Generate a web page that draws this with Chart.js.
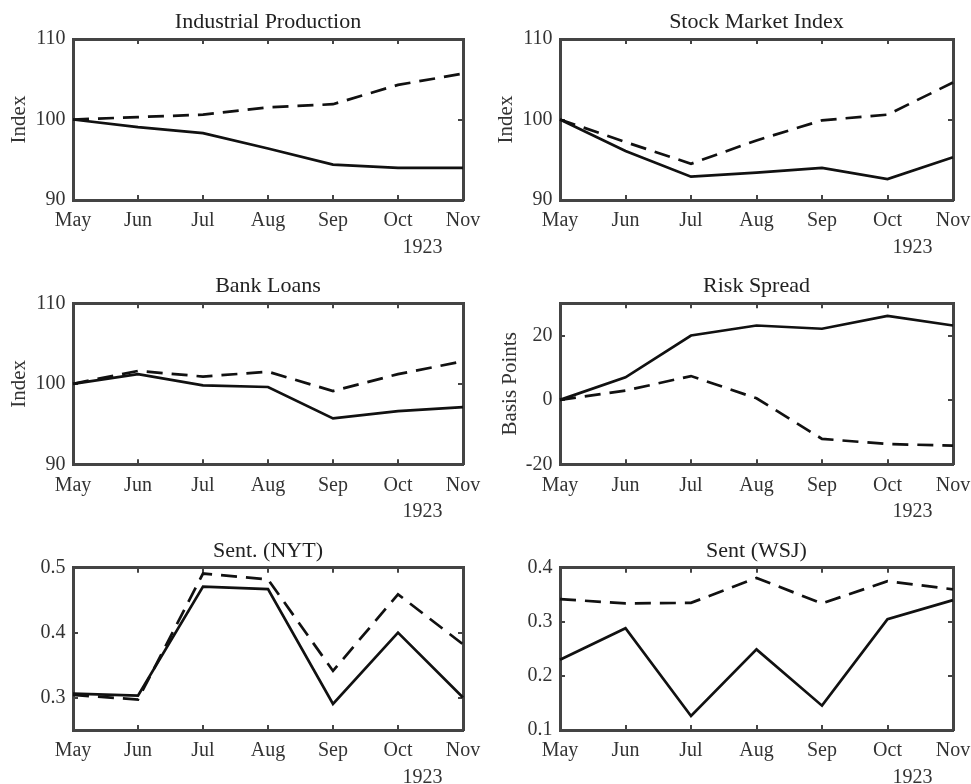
<!DOCTYPE html>
<html>
<head>
<meta charset="utf-8">
<script src="https://cdn.jsdelivr.net/npm/chart.js@4/dist/chart.umd.min.js"></script>
<style>
  html, body { margin: 0; padding: 0; background: #fff; overflow: hidden; }
  body { width: 971px; height: 784px; position: relative; }
  canvas { position: absolute; }
</style>
</head>
<body>
<script>
(function() {

    let months = ['May', 'Jun', 'Jul', 'Aug', 'Sep', 'Oct', 'Nov'];
    let yearLabel = '1923';

    // Industrial Production
    let ipSolid = [100, 99.05, 98.3, 96.4, 94.4, 94.0, 94.0];
    let ipDashed = [100, 100.3, 100.6, 101.5, 101.9, 104.3, 105.7];

    // Stock Market Index
    let stockSolid = [100, 96.1, 92.9, 93.4, 94.0, 92.6, 95.3];
    let stockDashed = [100, 97.2, 94.5, 97.4, 99.9, 100.6, 104.6];

    // Bank Loans
    let loansSolid = [100, 101.2, 99.8, 99.6, 95.7, 96.6, 97.1];
    let loansDashed = [100, 101.6, 100.9, 101.5, 99.1, 101.2, 102.8];

    // Risk Spread
    let spreadSolid = [0, 7.0, 20, 23.1, 22.1, 26.1, 23.1];
    let spreadDashed = [0, 2.9, 7.4, 0.5, -12.1, -13.7, -14.2];

    // Sent. (NYT)
    let nytSolid = [0.306, 0.303, 0.471, 0.467, 0.290, 0.400, 0.300];
    let nytDashed = [0.304, 0.297, 0.491, 0.482, 0.341, 0.459, 0.382];

    // Sent (WSJ)
    let wsjSolid = [0.230, 0.288, 0.126, 0.249, 0.145, 0.305, 0.340];
    let wsjDashed = [0.342, 0.334, 0.335, 0.381, 0.334, 0.375, 0.360];

    // y tick labels
    let indexTicks = [90, 100, 110];
    let spreadTicks = [-20, 0, 20];
    let nytTicks = [0.3, 0.4, 0.5];
    let wsjTicks = [0.1, 0.2, 0.3, 0.4];

    let panels = [
        { title: 'Industrial Production', yTitle: 'Index', solid: ipSolid, dashed: ipDashed, ticks: indexTicks, min: 90, max: 110, col: 0, row: 0, yTitlePad: 6.9 },
        { title: 'Stock Market Index', yTitle: 'Index', solid: stockSolid, dashed: stockDashed, ticks: indexTicks, min: 90, max: 110, col: 1, row: 0, yTitlePad: 4.1 },
        { title: 'Bank Loans', yTitle: 'Index', solid: loansSolid, dashed: loansDashed, ticks: indexTicks, min: 90, max: 110, col: 0, row: 1, yTitlePad: 6.9 },
        { title: 'Risk Spread', yTitle: 'Basis Points', solid: spreadSolid, dashed: spreadDashed, ticks: spreadTicks, min: -20, max: 30, col: 1, row: 1, yTitlePad: 8.2 },
        { title: 'Sent. (NYT)', yTitle: '', solid: nytSolid, dashed: nytDashed, ticks: nytTicks, min: 0.25, max: 0.5, col: 0, row: 2, decimals: 1 },
        { title: 'Sent (WSJ)', yTitle: '', solid: wsjSolid, dashed: wsjDashed, ticks: wsjTicks, min: 0.1, max: 0.4, col: 1, row: 2, decimals: 1 }
    ];

    /**
     * Page grid (canvas boxes); canvases are transparent and may overlap
     */
    let cols = [
        { left: 0, width: 520, yWidth: 73, padRight: 57 },
        { left: 490, width: 520, yWidth: 70, padRight: 57 }
    ];
    let rows = [
        { top: 0, height: 262, titleTop: 9.4, titleBottom: 3.2, xHeight: 62 },
        { top: 262, height: 263, titleTop: 11.4, titleBottom: 3.5, xHeight: 60.7 },
        { top: 525, height: 259, titleTop: 13.4, titleBottom: 2.9, xHeight: 54 }
    ];

    let font = 'Liberation Serif, Times New Roman, serif';
    let axisColor = '#444';
    let textColor = '#333';
    let lineColor = '#111';

    /**
     * Draws the year under the last months
     */
    let yearPlugin = {
        id: 'yearLabel',
        afterDraw: chart => {
            let x = chart.scales.x;
            let c = chart.ctx;
            c.save();
            c.font = '20px ' + font;
            c.fillStyle = textColor;
            c.textAlign = 'center';
            c.textBaseline = 'middle';
            c.fillText(yearLabel, x.right - 40.5, x.top + 47.5);
            c.restore();
        }
    };

    let innerGrid = {
        display: true,
        drawOnChartArea: false,
        drawTicks: true,
        tickLength: -5,
        color: axisColor,
        lineWidth: 2
    };

    let border = { display: true, color: axisColor, width: 3 };

    let setTicks = values => scale => {
        scale.ticks = values.map(v => ({ value: v }));
    };

    let makeChart = p => {
        let col = cols[p.col];
        let row = rows[p.row];

        let canvas = document.createElement('canvas');
        canvas.width = col.width;
        canvas.height = row.height;
        canvas.style.left = col.left + 'px';
        canvas.style.top = row.top + 'px';
        document.body.appendChild(canvas);

        new Chart(canvas, {
            type: 'line',
            data: {
                labels: months,
                datasets: [
                    {
                        data: p.solid,
                        borderColor: lineColor,
                        borderWidth: 2.7,
                        pointRadius: 0,
                        tension: 0
                    },
                    {
                        data: p.dashed,
                        borderColor: lineColor,
                        borderWidth: 2.7,
                        borderDash: [16, 9],
                        pointRadius: 0,
                        tension: 0
                    }
                ]
            },
            options: {
                responsive: false,
                animation: false,
                events: [],
                layout: { padding: { left: 0, top: 0, bottom: 0, right: col.padRight } },
                plugins: {
                    legend: { display: false },
                    tooltip: { enabled: false },
                    title: {
                        display: true,
                        text: p.title,
                        fullSize: false,
                        color: '#222',
                        font: { family: font, size: 22, weight: 'normal' },
                        padding: { top: row.titleTop, bottom: row.titleBottom }
                    }
                },
                scales: {
                    x: {
                        type: 'category',
                        position: 'bottom',
                        offset: false,
                        grid: innerGrid,
                        border: border,
                        ticks: {
                            color: textColor,
                            font: { family: font, size: 20 },
                            padding: 14,
                            autoSkip: false,
                            maxRotation: 0
                        },
                        afterFit: s => { s.height = row.xHeight; }
                    },
                    x2: {
                        type: 'category',
                        position: 'top',
                        offset: false,
                        grid: innerGrid,
                        border: border,
                        ticks: { display: false },
                        afterFit: s => { s.height = 0; }
                    },
                    y: {
                        type: 'linear',
                        position: 'left',
                        min: p.min,
                        max: p.max,
                        grid: innerGrid,
                        border: border,
                        afterBuildTicks: setTicks(p.ticks),
                        ticks: {
                            color: textColor,
                            font: { family: font, size: 20 },
                            padding: 12.5,
                            callback: v => p.decimals ? v.toFixed(p.decimals) : String(v)
                        },
                        title: {
                            display: !!p.yTitle,
                            text: p.yTitle,
                            color: textColor,
                            font: { family: font, size: 21 },
                            padding: { top: p.yTitlePad || 0, bottom: 0 }
                        },
                        afterFit: s => { s.width = col.yWidth; }
                    },
                    y2: {
                        type: 'linear',
                        position: 'right',
                        min: p.min,
                        max: p.max,
                        grid: innerGrid,
                        border: border,
                        afterBuildTicks: setTicks(p.ticks),
                        ticks: { display: false },
                        afterFit: s => { s.width = 0; }
                    }
                }
            },
            plugins: [yearPlugin]
        });
    };

    let init = () => {
        panels.forEach(makeChart);
    };

    init();

})()
</script>
</body>
</html>
